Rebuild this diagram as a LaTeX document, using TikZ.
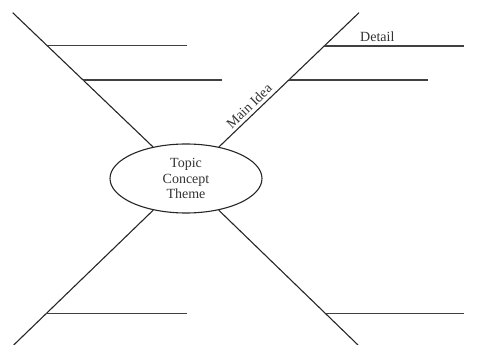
\documentclass[tikz,border=0pt]{standalone}
\usepackage{fontspec}
\setmainfont{Liberation Serif}
\usetikzlibrary{shapes.geometric,calc}
\tikzset{
  spoke/.style={line width=1.1pt, black!85},
  branch/.style={line width=1.3pt, black!75},
  lbl/.style={font=\fontsize{14}{15.5}\selectfont, text=black!80, inner sep=0pt},
  hub/.style={ellipse, draw, line width=1.1pt, black!85, minimum width=152pt, minimum height=69pt, inner sep=0pt, align=center, font=\fontsize{14}{15.5}\selectfont, text=black!80}
}
\begin{document}
\begin{tikzpicture}[x=1pt,y=1pt]
\useasboundingbox (0,0) rectangle (488,345);
\node[hub] (topic) at (186,166.5) {Topic\\Concept\\Theme};
\coordinate (tl) at (12.7,332.3);
\coordinate (tr) at (359,332.3);
\coordinate (bl) at (13.7,0);
\coordinate (br) at (358,0);
\draw[spoke] (tl) -- (topic);
\draw[spoke] (tr) -- (topic);
\draw[spoke] (bl) -- (topic);
\draw[spoke] (br) -- (topic);
% branch start points
\coordinate (a1) at ($(tl)!0.199!(topic.center)$);
\coordinate (a2) at ($(tl)!0.406!(topic.center)$);
\coordinate (b1) at ($(tr)!0.201!(topic.center)$);
\coordinate (b2) at ($(tr)!0.406!(topic.center)$);
\coordinate (c1) at ($(bl)!0.188!(topic.center)$);
\coordinate (d1) at ($(br)!0.188!(topic.center)$);
% branch end x positions
\coordinate (xa1) at (187,0);
\coordinate (xa2) at (222,0);
\coordinate (xb1) at (464,0);
\coordinate (xb2) at (428,0);
\coordinate (xc1) at (187,0);
\coordinate (xd1) at (464,0);
\draw[branch] (a1) -- (a1 -| xa1);
\draw[branch] (a2) -- (a2 -| xa2);
\draw[branch] (b1) -- (b1 -| xb1);
\draw[branch] (b2) -- (b2 -| xb2);
\draw[branch] (c1) -- (c1 -| xc1);
\draw[branch] (d1) -- (d1 -| xd1);
\node[lbl, anchor=base west] (detail) at (360,303.5) {Detail};
\node[lbl, rotate=44] (mainidea) at (249,239) {Main Idea};
\end{tikzpicture}
\end{document}
